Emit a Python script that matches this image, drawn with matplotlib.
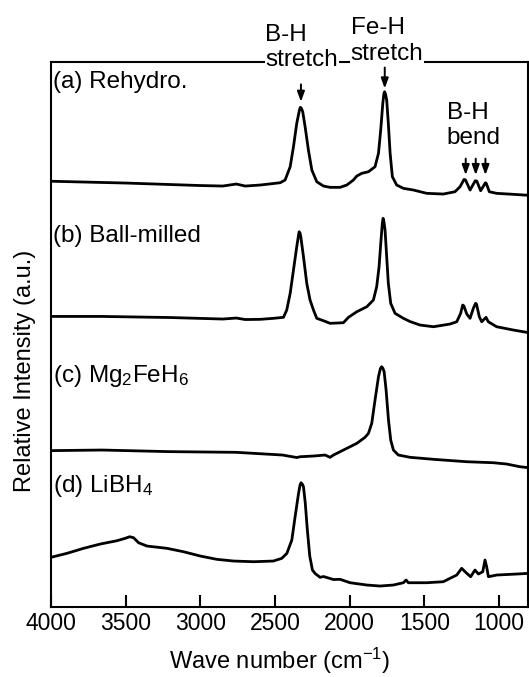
"""Stacked IR spectra: rehydrated, ball-milled, Mg2FeH6 and LiBH4."""

import matplotlib

matplotlib.use("Agg")
import matplotlib.pyplot as plt

plt.rcParams["font.family"] = ["Liberation Sans", "DejaVu Sans"]
plt.rcParams["mathtext.fontset"] = "custom"
plt.rcParams["mathtext.rm"] = "Liberation Sans"
plt.rcParams["mathtext.it"] = "Liberation Sans:italic"

# wave numbers (cm^-1) and intensities (a.u., already offset for stacking)
rehydro_wn = [4000, 3500, 3000, 2850, 2760, 2700, 2600, 2466, 2433, 2399, 2377, 2355,
              2337, 2331, 2325, 2315, 2299, 2277, 2254, 2221, 2176, 2132, 2065, 2020,
              1976, 1953, 1920, 1875, 1831, 1808, 1793, 1779, 1772, 1767, 1761, 1753,
              1742, 1730, 1715, 1686, 1641, 1574, 1485, 1374, 1296, 1262, 1235, 1225,
              1195, 1160, 1150, 1124, 1092, 1086, 1066, 1017, 905, 800]
rehydro_int = [426.8, 425, 422.5, 422, 424, 422, 423, 425.3, 428, 441.3, 461.3, 484.7,
               498, 500.7, 500, 496.3, 481.3, 458, 438, 426.3, 422, 420.7, 420.7, 423,
               428, 432, 434.7, 436.3, 441.3, 454.7, 478, 504.7, 514, 516.3, 514, 508,
               484.7, 454.7, 431.3, 423, 419.7, 418, 414.7, 414, 416.3, 421.3, 428.7, 428,
               418, 427.3, 427, 417.3, 425.3, 424.5, 416.3, 414.7, 413.7, 412.7]

milled_wn = [4000, 3660, 3200, 2850, 2760, 2700, 2600, 2511, 2444, 2422, 2399, 2377,
             2355, 2344, 2339, 2333, 2328, 2310, 2288, 2266, 2243, 2221, 2176, 2132,
             2043, 2009, 1953, 1886, 1842, 1820, 1804, 1791, 1782, 1777, 1771, 1764,
             1753, 1742, 1726, 1697, 1641, 1597, 1530, 1440, 1329, 1284, 1258, 1244,
             1236, 1217, 1195, 1173, 1158, 1152, 1133, 1117, 1088, 1073, 1017, 905, 800]
milled_int = [291.6, 291.6, 290.5, 289, 290, 288.5, 288.7, 289.7, 290.7, 298, 314.7, 338,
              361.3, 372, 376.3, 375, 371.3, 351.3, 324.7, 308, 298, 289.7, 287.3, 284.7,
              285.3, 290.7, 296.3, 301.3, 308, 321.3, 341.3, 368, 385, 389.7, 386, 378,
              351.3, 324.7, 304.7, 294.7, 289.7, 286.5, 283, 281.3, 284, 286.3, 294.7, 303,
              302, 294, 289.7, 299.7, 304.7, 304, 291.3, 286.3, 290.7, 286.3, 281.3, 278, 275.3]

mg2feh6_wn = [4000, 3660, 3210, 2760, 2450, 2355, 2332, 2243, 2165, 2132, 2109, 2065,
              1998, 1953, 1898, 1875, 1853, 1831, 1808, 1795, 1787, 1779, 1770, 1757,
              1741, 1726, 1708, 1675, 1596, 1440, 1217, 1039, 950, 861, 800]
mg2feh6_int = [157.4, 158, 156.4, 155.7, 153, 150.5, 151.3, 152, 153, 150.7, 153, 156.3,
               161.3, 164.7, 170.7, 174.7, 184.7, 208, 231.3, 239.5, 241.3, 240, 236.3, 218,
               188, 168, 158, 153, 150.7, 148.7, 146.3, 145.3, 144, 141.3, 140.3]

libh4_wn = [4000, 3893, 3782, 3670, 3559, 3503, 3474, 3447, 3414, 3358, 3224, 3113,
            3001, 2890, 2778, 2644, 2511, 2455, 2421, 2388, 2366, 2343, 2333, 2326,
            2318, 2310, 2298, 2284, 2268, 2250, 2232, 2199, 2176, 2109, 2065, 1998,
            1886, 1797, 1708, 1641, 1623, 1608, 1485, 1374, 1329, 1284, 1251, 1217,
            1191, 1162, 1139, 1110, 1095, 1084, 1072, 1017, 883, 800]
libh4_int = [50.7, 54.7, 59.7, 64, 67.3, 69.7, 71.3, 70.3, 65.3, 62, 59.7, 56.3,
             52, 48.7, 47, 46.3, 47, 49.7, 54.7, 68, 91.3, 114.7, 123, 125.3,
             124, 121.3, 105, 78, 52, 38, 34.5, 30.7, 31.5, 28.5, 28.7, 25.3,
             23, 22, 23, 25.3, 28, 25.3, 25.3, 26.3, 29.7, 33, 39.7, 34.7,
             31.3, 38, 34, 36.3, 48, 41.3, 31.3, 33, 34, 34.7]

spectra = [
    (rehydro_wn, rehydro_int),
    (milled_wn, milled_int),
    (mg2feh6_wn, mg2feh6_int),
    (libh4_wn, libh4_int),
]
sample_labels = ["(a) Rehydro.", "(b) Ball-milled", "(c) Mg$_2$FeH$_6$", "(d) LiBH$_4$"]
sample_label_y = [520, 366, 226, 116.3]

# band assignments: (line 1, line 2), text x, baselines, arrow xs, arrow tail, arrow tip
bands = [
    (("B-H", "stretch"), 2565, (567.5, 542.2), [2327], 523.7, 506.3),
    (("Fe-H", "stretch"), 1994, (574.3, 548), [1766], 540.5, 519.6),
    (("B-H", "bend"), 1351, (489.2, 463.6), [1224, 1157, 1092], 449.4, 433),
]

fig = plt.figure(figsize=(5.29, 6.77), dpi=100)
ax = fig.add_axes([0.0964, 0.1038, 0.9023, 0.805])

for wn, inten in spectra:
    ax.plot(wn, inten, color="black", linewidth=2.0, solid_joinstyle="round")

for label, y in zip(sample_labels, sample_label_y):
    ax.text(3988, y, label, fontsize=17.5, ha="left", va="baseline")

for (line1, line2), tx, (y1, y2), arrow_x, tail, tip in bands:
    ax.text(tx, y1, line1, fontsize=17.5, ha="left", va="baseline", clip_on=False)
    ax.text(tx, y2, line2, fontsize=17.5, ha="left", va="baseline", clip_on=False,
            zorder=5, bbox=dict(facecolor="white", edgecolor="none", pad=0.3))
    for x in arrow_x:
        ax.annotate("", xy=(x, tip), xytext=(x, tail),
                    arrowprops=dict(arrowstyle="-|>,head_length=0.6,head_width=0.22",
                                    color="black", lw=1.4, mutation_scale=10,
                                    shrinkA=0, shrinkB=0))

ax.set_xlim(4000, 805)
ax.set_ylim(1.3, 546.3)
ax.set_xticks([4000, 3500, 3000, 2500, 2000, 1500, 1000])
ax.set_yticks([])
ax.tick_params(axis="x", direction="in", length=9, width=1.5, pad=4, labelsize=16.5)
for side in ax.spines.values():
    side.set_linewidth(1.5)

ax.set_xlabel("Wave number (cm$^{-1}$)", fontsize=17)
ax.set_ylabel("Relative Intensity (a.u.)", fontsize=17)
ax.xaxis.set_label_coords(0.478, -0.072)
ax.yaxis.set_label_coords(-0.032, 0.432)

fig.savefig("out.png", dpi=100)
